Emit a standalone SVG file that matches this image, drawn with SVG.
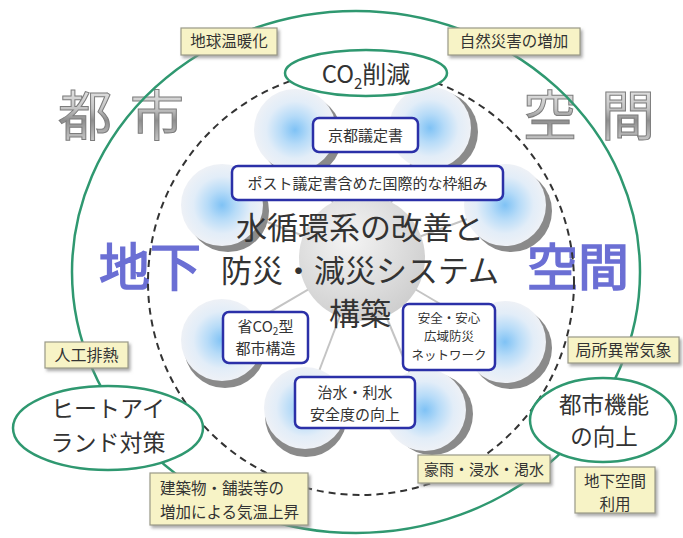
<svg xmlns="http://www.w3.org/2000/svg" width="683" height="538" viewBox="0 0 683 538">
<defs>
  <style>
    text { font-family: 'Noto Sans CJK JP', 'Noto Sans', sans-serif; }
    .green { fill: #fff; stroke: #2f9870; stroke-width: 2.5; }
    .ybox { fill: #f7f3c6; stroke: #9a9a88; stroke-width: 1.2; filter: url(#sh); }
    .ytxt { fill: #333; }
    .bbox { fill: #fff; stroke: #2b30a8; stroke-width: 2.5; }
    .btxt { fill: #333; text-anchor: middle; }
    .etxt { fill: #333; text-anchor: middle; }
    .metal { font-size: 54px; fill: url(#metal); stroke: #7c7c7c; stroke-width: 1; }
    .blue { font-size: 51px; fill: #6b6fd4; stroke: #6b6fd4; stroke-width: 1.6; }
    .main { font-size: 31px; fill: #333; text-anchor: middle; }
    .spoke { stroke: #c4c4c4; stroke-width: 2; }
    .crescent { fill: #8a8a8a; }
    .bubble { fill: url(#bub); }
  </style>
  <filter id="sh" x="-10%" y="-10%" width="130%" height="140%">
    <feDropShadow dx="2" dy="2.5" stdDeviation="1.5" flood-color="#888" flood-opacity="0.7"/>
  </filter>
  <linearGradient id="metal" x1="0" y1="0" x2="0" y2="1">
    <stop offset="0" stop-color="#fafafa"/>
    <stop offset="0.45" stop-color="#c4c4c4"/>
    <stop offset="0.6" stop-color="#8e8e8e"/>
    <stop offset="1" stop-color="#e6e6e6"/>
  </linearGradient>
  <radialGradient id="bub" cx="0.5" cy="0.5" r="0.5">
    <stop offset="0" stop-color="#7fc2f5"/>
    <stop offset="0.35" stop-color="#b6dbf8"/>
    <stop offset="0.7" stop-color="#e2edf8"/>
    <stop offset="1" stop-color="#eef1f6"/>
  </radialGradient>
  <radialGradient id="core" cx="0.4" cy="0.35" r="0.7">
    <stop offset="0" stop-color="#f4f4f4"/>
    <stop offset="1" stop-color="#cdcdcd"/>
  </radialGradient>
</defs>

<g id="title-toshi">
  <text class="metal" x="58" y="136">都</text>
  <text class="metal" x="130" y="136">市</text>
</g>
<g id="title-kukan">
  <text class="metal" x="523" y="136">空</text>
  <text class="metal" x="601" y="136">間</text>
</g>
<g id="title-chika">
  <text class="blue" x="99" y="286">地下</text>
</g>
<g id="title-kukan2">
  <text class="blue" x="527" y="286">空間</text>
</g>

<g id="connectors">
  <ellipse cx="356" cy="272" rx="284" ry="261" fill="none" stroke="#2f9870" stroke-width="2.5"/>
  <circle cx="361" cy="282" r="213" fill="none" stroke="#333" stroke-width="2" stroke-dasharray="7 5"/>
  <line class="spoke" x1="362" y1="258" x2="295" y2="130"/>
  <line class="spoke" x1="362" y1="258" x2="430" y2="128"/>
  <line class="spoke" x1="362" y1="258" x2="222" y2="205"/>
  <line class="spoke" x1="362" y1="258" x2="505" y2="205"/>
  <line class="spoke" x1="362" y1="258" x2="222" y2="340"/>
  <line class="spoke" x1="362" y1="258" x2="505" y2="342"/>
  <line class="spoke" x1="362" y1="258" x2="305" y2="408"/>
  <line class="spoke" x1="362" y1="258" x2="425" y2="410"/>
</g>

<g id="core">
  <circle cx="362" cy="258" r="63" fill="url(#core)"/>
</g>

<g id="bubbles">
  <circle class="crescent" cx="301" cy="136" r="41"/><circle class="bubble" cx="295" cy="130" r="41"/>
  <circle class="crescent" cx="437" cy="132" r="41"/><circle class="bubble" cx="430" cy="128" r="41"/>
  <circle class="crescent" cx="228" cy="211" r="41"/><circle class="bubble" cx="222" cy="205" r="41"/>
  <circle class="crescent" cx="511" cy="211" r="41"/><circle class="bubble" cx="505" cy="205" r="41"/>
  <circle class="crescent" cx="225" cy="347" r="41"/><circle class="bubble" cx="222" cy="340" r="41"/>
  <circle class="crescent" cx="511" cy="348" r="41"/><circle class="bubble" cx="505" cy="342" r="41"/>
  <circle class="crescent" cx="306" cy="416" r="41"/><circle class="bubble" cx="305" cy="408" r="41"/>
  <circle class="crescent" cx="432" cy="414" r="41"/><circle class="bubble" cx="425" cy="410" r="41"/>
</g>

<g id="main-text">
  <text class="main" x="360" y="239">水循環系の改善と<tspan x="360" dy="43">防災・減災システム</tspan><tspan x="360" dy="43">構築</tspan></text>
</g>

<g id="kyoto">
  <rect class="bbox" x="313" y="118" width="105" height="34" rx="6"/>
  <text class="btxt" x="365.5" y="141" style="font-size:15px">京都議定書</text>
</g>
<g id="post-kyoto">
  <rect class="bbox" x="232" y="166" width="271" height="34" rx="6"/>
  <text class="btxt" x="367.5" y="189" style="font-size:15px">ポスト議定書含めた国際的な枠組み</text>
</g>
<g id="low-co2">
  <rect class="bbox" x="223" y="312" width="85" height="51" rx="6"/>
  <text class="btxt" x="265.5" y="332" style="font-size:15px">省CO<tspan style="font-size:10px" dy="3">2</tspan><tspan dy="-3">型</tspan><tspan x="265.5" dy="22">都市構造</tspan></text>
</g>
<g id="safety">
  <rect class="bbox" x="403" y="304" width="92" height="66" rx="6"/>
  <text class="btxt" x="449" y="323" style="font-size:12.5px">安全・安心<tspan x="449" dy="18.3">広域防災</tspan><tspan x="449" dy="18.3">ネットワーク</tspan></text>
</g>
<g id="flood">
  <rect class="bbox" x="295" y="377" width="120" height="51" rx="6"/>
  <text class="btxt" x="355" y="398" style="font-size:15px">治水・利水<tspan x="355" dy="22">安全度の向上</tspan></text>
</g>

<g id="co2">
  <ellipse class="green" cx="366" cy="73" rx="81" ry="23"/>
  <text x="366" y="83" style="font-size:24px" fill="#333" text-anchor="middle">CO<tspan style="font-size:15px" dy="6">2</tspan><tspan dy="-6">削減</tspan></text>
</g>
<g id="heat-island">
  <ellipse class="green" cx="108" cy="428" rx="95" ry="42"/>
  <text class="etxt" x="108" y="417" style="font-size:23px">ヒートアイ<tspan x="108" dy="33.5">ランド対策</tspan></text>
</g>
<g id="urban-function">
  <ellipse class="green" cx="603" cy="420" rx="73" ry="42"/>
  <text class="etxt" x="604" y="413" style="font-size:22.5px">都市機能<tspan x="604" dy="31.5">の向上</tspan></text>
</g>

<g id="warming">
  <rect class="ybox" x="181" y="28" width="96" height="27"/>
  <text class="ytxt" x="229" y="47" text-anchor="middle" style="font-size:15.5px">地球温暖化</text>
</g>
<g id="disaster">
  <rect class="ybox" x="448" y="28" width="132" height="27"/>
  <text class="ytxt" x="514" y="47" text-anchor="middle" style="font-size:15.5px">自然災害の増加</text>
</g>
<g id="waste-heat">
  <rect class="ybox" x="45" y="342" width="83" height="26"/>
  <text class="ytxt" x="86.5" y="361" text-anchor="middle" style="font-size:16px">人工排熱</text>
</g>
<g id="local-weather">
  <rect class="ybox" x="568" y="337" width="111" height="26"/>
  <text class="ytxt" x="623.5" y="356" text-anchor="middle" style="font-size:16px">局所異常気象</text>
</g>
<g id="rain">
  <rect class="ybox" x="418" y="455" width="132" height="28"/>
  <text class="ytxt" x="484" y="475" text-anchor="middle" style="font-size:15px">豪雨・浸水・渇水</text>
</g>
<g id="building">
  <rect class="ybox" x="150" y="473" width="158" height="52"/>
  <text class="ytxt" x="160" y="494" style="font-size:15.5px">建築物・舗装等の<tspan x="160" dy="24">増加による気温上昇</tspan></text>
</g>
<g id="underground">
  <rect class="ybox" x="575" y="467" width="80" height="46"/>
  <text class="ytxt" x="615" y="487" text-anchor="middle" style="font-size:15.5px">地下空間<tspan x="615" dy="22.5">利用</tspan></text>
</g>
</svg>
